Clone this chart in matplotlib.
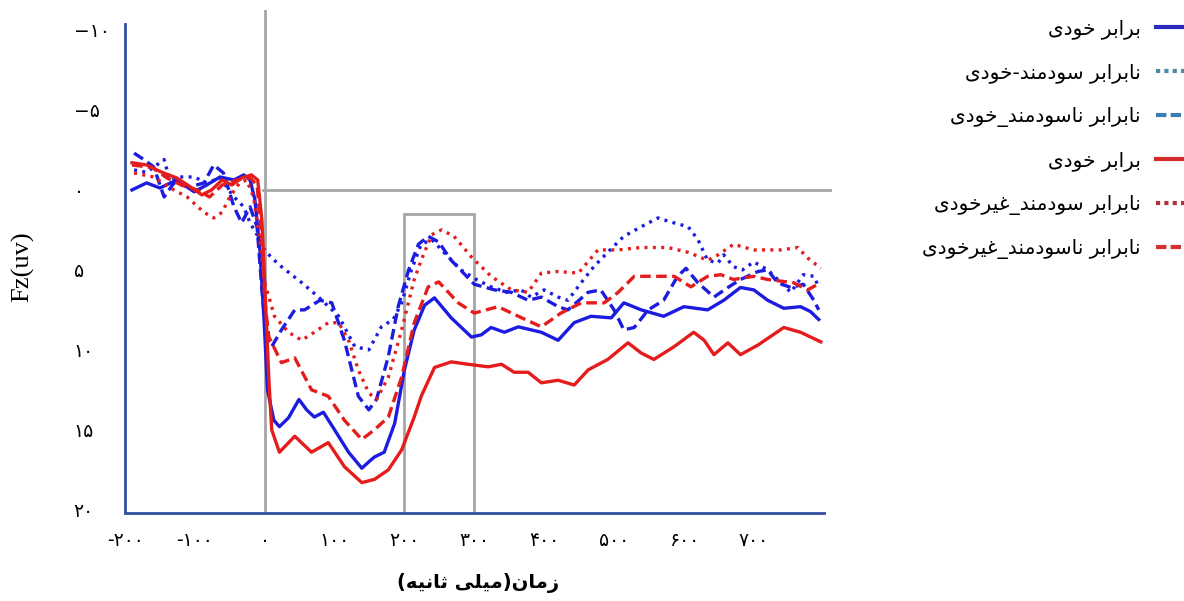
import matplotlib
matplotlib.use("Agg")
import matplotlib.pyplot as plt
from matplotlib.lines import Line2D
from matplotlib.patches import Rectangle

# ---------------- data (time in ms, amplitude in microvolts) ----------------
t_blue_solid = [-190, -169, -150, -126, -101, -83, -64, -44, -30, -21, -14, -7, -1, 4, 13, 21, 34, 49, 60, 71, 84,
                100, 120, 139, 149, 157, 171, 186, 200, 214, 229, 243, 267, 296, 310, 324, 343, 363, 396, 420, 443,
                467, 496, 514, 539, 571, 600, 634, 657, 681, 700, 720, 743, 767, 781, 793]
v_blue_solid = [0.0, -0.44, -0.12, -0.62, 0.12, -0.31, -0.81, -0.62, -0.94, -0.62, 0.62, 3.75, 8.1, 12.5, 14.4, 14.8,
                14.25, 13.1, 13.75, 14.2, 13.9, 15.0, 16.4, 17.4, 17.0, 16.7, 16.4, 14.6, 11.25, 8.75, 7.2, 6.75, 8.0,
                9.2, 9.06, 8.6, 8.9, 8.56, 8.9, 9.4, 8.3, 7.9, 8.0, 7.06, 7.5, 7.9, 7.3, 7.5, 6.9, 6.1, 6.25, 6.9,
                7.4, 7.3, 7.6, 8.1]

t_blue_dotted = [-187, -169, -144, -136, -121, -101, -83, -64, -44, -30, -21, -11, -4, 10, 24, 53, 77, 106, 129, 149,
                 167, 184, 196, 210, 224, 239, 260, 281, 303, 324, 346, 367, 381, 400, 420, 434, 453, 471, 491, 514,
                 539, 563, 581, 606, 620, 634, 649, 657, 671, 684, 700, 720, 739, 753, 771, 786, 793]
v_blue_dotted = [-1.25, -1.1, -1.9, -0.62, -0.81, -0.81, -0.44, -0.75, 0.44, 1.06, 2.06, 2.8, 3.56, 4.25, 4.8, 5.8,
                 6.7, 7.9, 9.8, 10.0, 8.56, 8.1, 7.06, 5.0, 3.4, 3.1, 4.06, 5.0, 5.6, 6.06, 6.4, 6.25, 6.7, 6.25, 6.7,
                 6.9, 5.8, 4.8, 3.9, 2.9, 2.3, 1.75, 2.0, 2.3, 3.1, 4.4, 4.56, 4.06, 4.8, 5.0, 4.5, 5.0, 5.8, 6.4,
                 5.3, 5.4, 6.06]

t_blue_dashed = [-187, -173, -159, -144, -130, -107, -87, -73, -59, -44, -33, -21, -11, -4, 3, 10, 24, 43, 57, 79, 96,
                 114, 134, 149, 160, 177, 191, 206, 220, 234, 249, 267, 300, 329, 353, 377, 396, 420, 434, 463, 481,
                 500, 514, 529, 549, 571, 591, 603, 620, 643, 663, 681, 706, 720, 734, 753, 771, 786, 793]
v_blue_dashed = [-2.3, -1.9, -1.44, 0.44, -0.44, -0.19, -0.44, -1.56, -1.06, 1.06, 2.06, 1.06, 2.3, 6.25, 9.4, 9.8,
                 8.75, 7.5, 7.5, 6.9, 7.06, 9.4, 12.9, 13.75, 13.1, 10.4, 7.3, 5.0, 3.4, 2.9, 3.25, 4.4, 5.9, 6.25,
                 6.4, 6.9, 6.7, 7.3, 7.5, 6.4, 6.25, 7.5, 8.75, 8.6, 7.5, 6.9, 5.4, 4.9, 5.8, 6.7, 6.1, 5.6, 5.1, 5.0,
                 5.8, 6.1, 5.9, 6.9, 7.5]

t_red_solid = [-190, -169, -147, -126, -104, -90, -76, -61, -47, -33, -19, -10, -4, 1, 6, 10, 21, 43, 67, 91, 114,
               139, 157, 177, 196, 214, 224, 243, 267, 291, 320, 339, 357, 377, 396, 420, 443, 463, 491, 520, 539,
               557, 586, 614, 629, 643, 663, 681, 706, 743, 767, 796]
v_red_solid = [-1.7, -1.56, -1.1, -0.75, -0.12, 0.31, 0.0, -0.62, -0.31, -0.75, -0.94, -0.62, 1.9, 6.9, 11.9, 15.0,
               16.4, 15.4, 16.4, 15.8, 17.3, 18.3, 18.1, 17.5, 16.25, 14.2, 12.9, 11.1, 10.75, 10.9, 11.06, 10.9,
               11.4, 11.4, 12.06, 11.9, 12.2, 11.25, 10.6, 9.56, 10.2, 10.6, 9.8, 8.9, 9.4, 10.3, 9.56, 10.3, 9.7,
               8.6, 8.9, 9.5]

t_red_dotted = [-187, -159, -130, -111, -87, -73, -61, -50, -36, -26, -16, -7, 0, 14, 34, 53, 71, 91, 106, 120, 134,
                149, 160, 177, 196, 214, 224, 239, 253, 271, 296, 324, 353, 377, 396, 420, 449, 477, 506, 539, 577,
                606, 634, 649, 671, 700, 739, 763, 777, 796]
v_red_dotted = [-1.06, -0.81, 0.0, 0.44, 1.4, 1.75, 1.4, 0.44, -0.44, -0.62, 0.44, 3.1, 5.8, 7.9, 8.9, 9.4, 8.9, 8.3,
                8.3, 9.4, 11.25, 12.7, 13.1, 11.7, 8.75, 5.6, 4.4, 2.8, 2.5, 2.9, 4.2, 5.4, 6.25, 6.4, 5.2, 5.1, 5.2,
                3.75, 3.75, 3.6, 3.6, 3.9, 4.4, 4.06, 3.4, 3.75, 3.75, 3.6, 4.25, 4.9]

t_red_dashed = [-190, -161, -140, -119, -97, -79, -61, -40, -21, -11, -4, 0, 6, 24, 43, 67, 91, 114, 139, 157, 177,
                196, 214, 234, 249, 277, 300, 334, 363, 396, 424, 453, 486, 506, 529, 557, 586, 610, 634, 653, 671,
                700, 720, 757, 777, 796]
v_red_dashed = [-1.56, -1.4, -0.75, -0.3, 0.0, 0.44, -0.3, -0.62, -0.75, -0.3, 3.1, 6.9, 9.2, 10.8, 10.5, 12.5, 12.9,
                14.4, 15.6, 15.0, 14.2, 11.7, 8.3, 6.06, 5.75, 7.06, 7.7, 7.3, 7.9, 8.56, 7.7, 7.06, 7.06, 6.4, 5.4,
                5.4, 5.4, 6.06, 5.4, 5.3, 5.6, 5.4, 5.6, 5.8, 6.25, 5.8]

legend_labels = ["برابر خودی", "نابرابر سودمند-خودی", "نابرابر ناسودمند_خودی",
                 "برابر خودی", "نابرابر سودمند_غیرخودی", "نابرابر ناسودمند_غیرخودی"]
x_ticks = [-200, -100, 0, 100, 200, 300, 400, 500, 600, 700]
x_ticklabels = ["-۲۰۰", "-۱۰۰", "۰", "۱۰۰", "۲۰۰", "۳۰۰", "۴۰۰", "۵۰۰", "۶۰۰", "۷۰۰"]
y_ticks = [-10, -5, 0, 5, 10, 15, 20]
y_ticklabels = ["−۱۰", "−۵", "۰", "۵", "۱۰", "۱۵", "۲۰"]
x_label = "زمان(میلی ثانیه)"
y_label = "Fz(uv)"

# ---------------- minimal Arabic-script shaping (presentation forms + RTL) ----------------
FORMS = {
    'ا': ('\uFE8D', '\uFE8E', None, None),
    'ب': ('\uFE8F', '\uFE90', '\uFE91', '\uFE92'),
    'ت': ('\uFE95', '\uFE96', '\uFE97', '\uFE98'),
    'ث': ('\uFE99', '\uFE9A', '\uFE9B', '\uFE9C'),
    'خ': ('\uFEA5', '\uFEA6', '\uFEA7', '\uFEA8'),
    'د': ('\uFEA9', '\uFEAA', None, None),
    'ر': ('\uFEAD', '\uFEAE', None, None),
    'ز': ('\uFEAF', '\uFEB0', None, None),
    'س': ('\uFEB1', '\uFEB2', '\uFEB3', '\uFEB4'),
    'غ': ('\uFECD', '\uFECE', '\uFECF', '\uFED0'),
    'ل': ('\uFEDD', '\uFEDE', '\uFEDF', '\uFEE0'),
    'م': ('\uFEE1', '\uFEE2', '\uFEE3', '\uFEE4'),
    'ن': ('\uFEE5', '\uFEE6', '\uFEE7', '\uFEE8'),
    'ه': ('\uFEE9', '\uFEEA', '\uFEEB', '\uFEEC'),
    'و': ('\uFEED', '\uFEEE', None, None),
    'ی': ('\uFEEF', '\uFEF0', '\uFEF3', '\uFEF4'),
}


def shape(s):
    out = []
    n = len(s)
    for i, c in enumerate(s):
        if c not in FORMS:
            out.append(c)
            continue
        iso, fin, ini, med = FORMS[c]
        prev = s[i - 1] if i > 0 else None
        nxt = s[i + 1] if i < n - 1 else None
        jp = prev in FORMS and FORMS[prev][2] is not None
        jn = ini is not None and nxt in FORMS
        if jp and jn:
            out.append(med)
        elif jp:
            out.append(fin)
        elif jn:
            out.append(ini)
        else:
            out.append(iso)
    mirror = {'(': ')', ')': '('}
    return ''.join(mirror.get(c, c) for c in reversed(out))


# ---------------- figure ----------------
plt.rcParams['font.family'] = ['DejaVu Sans']
fig = plt.figure(figsize=(11.84, 6.01), dpi=100)
ax = fig.add_axes([125 / 1184, 1 - 513 / 601, 707 / 1184, 503 / 601])

BLUE = '#1c1ce0'
RED = '#e41c1c'
GRAY = '#a6a6a6'
LW = 2.4

# reference lines
ax.axvline(0, color=GRAY, lw=2.0, zorder=1)
ax.axhline(0, xmin=(0 + 197) / 1009, xmax=1, color=GRAY, lw=2.0, zorder=1)
ax.add_patch(Rectangle((200, 1.5), 100, 19.0, fill=False, edgecolor=GRAY, lw=2.0, zorder=1))

dot = (0, (0.9, 1.6))
dash = (0, (3.2, 1.6))
ax.plot(t_blue_dotted, v_blue_dotted, color=BLUE, lw=LW, ls=dot, zorder=3)
ax.plot(t_blue_dashed, v_blue_dashed, color=BLUE, lw=LW, ls=dash, zorder=3)
ax.plot(t_blue_solid, v_blue_solid, color=BLUE, lw=LW, zorder=3)
ax.plot(t_red_dotted, v_red_dotted, color=RED, lw=LW, ls=dot, zorder=3)
ax.plot(t_red_dashed, v_red_dashed, color=RED, lw=LW, ls=dash, zorder=3)
ax.plot(t_red_solid, v_red_solid, color=RED, lw=LW, zorder=3)

ax.set_xlim(-197, 812)
ax.set_ylim(20.2, -11.25)

for side in ('top', 'right'):
    ax.spines[side].set_visible(False)
SP = '#2f4f9f'
ax.spines['left'].set_color(SP)
ax.spines['bottom'].set_color(SP)
ax.spines['left'].set_linewidth(2.0)
ax.spines['bottom'].set_linewidth(2.0)
ax.spines['left'].set_bounds(20.2, -10.4)
ax.spines['bottom'].set_bounds(-197, 800)

ax.set_xticks(x_ticks)
ax.set_xticklabels(x_ticklabels, fontsize=13.5)
ax.set_yticks(y_ticks)
ax.set_yticklabels(y_ticklabels, fontsize=13.5, ha='left')
ax.tick_params(axis='both', length=0)
ax.tick_params(axis='x', pad=13)
ax.tick_params(axis='y', pad=37)

ax.set_xlabel(shape(x_label), fontsize=14, fontweight='bold', va='center')
ax.xaxis.set_label_coords(0.5, -0.139)
ax.set_ylabel(y_label, fontsize=19, family='Liberation Serif')
ax.yaxis.set_label_coords(-0.128, 0.49)

# legend (handles on the right, text right-aligned)
handles = [
    Line2D([], [], color='#2a2ac0', lw=3),
    Line2D([], [], color='#4a8aa8', lw=3, ls=(0, (1, 1))),
    Line2D([], [], color='#3a7fb0', lw=3, ls=(0, (2.5, 1))),
    Line2D([], [], color='#d42a2a', lw=3),
    Line2D([], [], color='#b03040', lw=3, ls=(0, (1, 1))),
    Line2D([], [], color='#d43030', lw=3, ls=(0, (2.5, 1))),
]
leg = fig.legend(handles, [shape(s) for s in legend_labels], loc='upper right',
                 bbox_to_anchor=(1.022, 0.998), frameon=False, markerfirst=False,
                 fontsize=14.5, handlelength=1.8, handletextpad=0.75, labelspacing=1.2)

fig.savefig('out.png', dpi=100)
